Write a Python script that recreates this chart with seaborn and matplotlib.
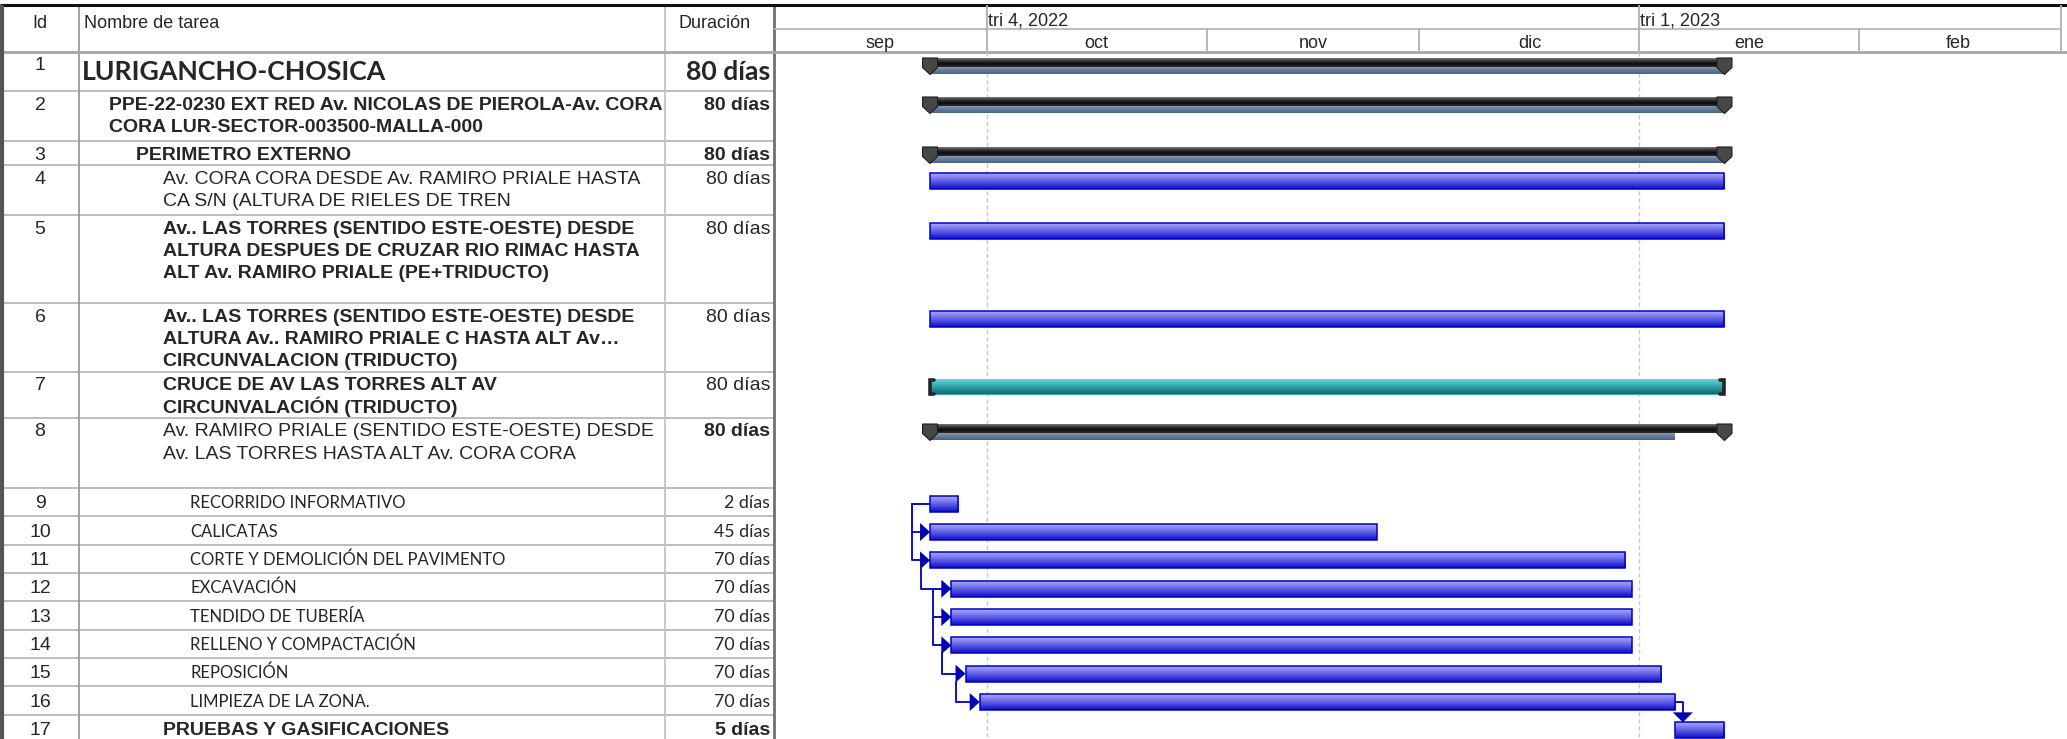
import numpy as np
import pandas as pd
import matplotlib
matplotlib.use("Agg")
import matplotlib.pyplot as plt
import matplotlib.dates as mdates
import seaborn as sns

# ---------------- data ----------------
task_ids = list(range(1, 18))
task_names = [
    "LURIGANCHO-CHOSICA",
    "PPE-22-0230 EXT RED Av. NICOLAS DE PIEROLA-Av. CORA\nCORA LUR-SECTOR-003500-MALLA-000",
    "PERIMETRO EXTERNO",
    "Av. CORA CORA DESDE Av. RAMIRO PRIALE HASTA\nCA S/N (ALTURA DE RIELES DE TREN",
    "Av.. LAS TORRES (SENTIDO ESTE-OESTE) DESDE\nALTURA DESPUES DE CRUZAR RIO RIMAC HASTA\nALT Av. RAMIRO PRIALE (PE+TRIDUCTO)",
    "Av.. LAS TORRES (SENTIDO ESTE-OESTE) DESDE\nALTURA Av.. RAMIRO PRIALE C HASTA ALT Av…\nCIRCUNVALACION (TRIDUCTO)",
    "CRUCE DE AV LAS TORRES ALT AV\nCIRCUNVALACIÓN (TRIDUCTO)",
    "Av. RAMIRO PRIALE (SENTIDO ESTE-OESTE) DESDE\nAv. LAS TORRES HASTA ALT Av. CORA CORA",
    "RECORRIDO INFORMATIVO",
    "CALICATAS",
    "CORTE Y DEMOLICIÓN DEL PAVIMENTO",
    "EXCAVACIÓN",
    "TENDIDO DE TUBERÍA",
    "RELLENO Y COMPACTACIÓN",
    "REPOSICIÓN",
    "LIMPIEZA DE LA ZONA.",
    "PRUEBAS Y GASIFICACIONES",
]
durations = ["80 días"] * 8 + ["2 días", "45 días"] + ["70 días"] * 6 + ["5 días"]
outline_level = [0, 1, 2, 3, 3, 3, 3, 3, 4, 4, 4, 4, 4, 4, 4, 4, 3]
task_kind = ["summary", "summary", "summary", "task", "task", "task", "external", "summary"] + ["task"] * 9
name_style = ["title", "bold", "bold", "normal", "bold", "bold", "bold", "normal"] + ["small"] * 8 + ["bold"]
dur_style = ["title", "bold", "bold", "normal", "normal", "normal", "normal", "bold"] + ["small"] * 8 + ["bold"]

task_start = ["2022-09-23"] * 11 + ["2022-09-26"] * 3 + ["2022-09-28", "2022-09-30", "2023-01-06"]
task_finish = ["2023-01-13"] * 8 + ["2022-09-27", "2022-11-25", "2022-12-30",
                                    "2022-12-31", "2022-12-31", "2022-12-31",
                                    "2023-01-04", "2023-01-06", "2023-01-13"]
# baseline (lower band of summary bars)
baseline_finish = ["2023-01-13", "2023-01-13", "2023-01-13", None, None, None, None, "2023-01-06"] + [None] * 9

link_pred = [9, 9, 11, 12, 13, 14, 15, 16]
link_succ = [10, 11, 12, 13, 14, 15, 16, 17]
link_type = ["SS"] * 7 + ["FS"]

months = ["sep", "oct", "nov", "dic", "ene", "feb"]
month_starts = ["2022-09-01", "2022-10-01", "2022-11-01", "2022-12-01", "2023-01-01", "2023-02-01", "2023-03-01"]
quarter_labels = ["tri 4, 2022", "tri 1, 2023"]
quarter_starts = ["2022-10-01", "2023-01-01"]

# ---------------- layout (pixels) ----------------
W, H = 2067, 739
row_h = np.array([39, 50, 24, 50, 88, 69, 46, 70] + [28.33] * 9)
row_top = np.concatenate([[0], np.cumsum(row_h)[:-1]])
HDR = 52
COL_ID, COL_NAME, COL_DUR = 79, 665, 774
t_lo, t_hi = "2022-09-01", "2023-03-02 07:00"

sns.set_theme(style="white")
plt.rcParams["font.family"] = ["Liberation Sans", "DejaVu Sans"]
ARIAL = ["Liberation Sans", "DejaVu Sans"]
CALI = ["Lato", "DejaVu Sans"]

fig = plt.figure(figsize=(W / 100, H / 100), dpi=100)
fig.patch.set_facecolor("white")

def num(s):
    return mdates.date2num(pd.Timestamp(s))

# background / table axes in pixel coords
bg = fig.add_axes([0, 0, 1, 1])
bg.set_xlim(0, W)
bg.set_ylim(H, 0)
bg.axis("off")

body_h = row_h.sum()
ax = fig.add_axes([COL_DUR / W, (H - HDR - body_h) / H, (W - COL_DUR) / W, body_h / H])
ax.set_axis_off()
nax = fig.add_axes([COL_ID / W, (H - HDR - body_h) / H, (COL_NAME - COL_ID) / W, body_h / H])
nax.set_xlim(COL_ID, COL_NAME)
nax.set_ylim(body_h, 0)
nax.axis("off")

x_lo, x_hi = num(t_lo), num(t_hi)
dpp = (x_hi - x_lo) / (W - COL_DUR)  # days per pixel

# ---------------- table grid ----------------
grid = "#bdbdbd"
bg.hlines(HDR + row_top[1:], 0, COL_DUR, colors=grid, lw=1.4)
bg.hlines(HDR + body_h, 0, COL_DUR, colors=grid, lw=1.4)
bg.vlines(COL_ID, 5, H, colors="#9a9a9a", lw=1.3)
bg.vlines(COL_NAME, 5, H, colors="#c4c4c4", lw=1.3)
bg.vlines(COL_DUR, 5, H, colors="#707070", lw=2)
bg.hlines(51.5, 0, W, colors="#a6a6a6", lw=2)
bg.hlines(29, COL_DUR, W - 6, colors="#b8b8b8", lw=1.3)
bg.hlines(5, 0, W, colors="#111111", lw=2.2)
bg.vlines(2, 5, H, colors="#555555", lw=3)
bg.vlines(W - 6, 5, 51, colors="#b0b0b0", lw=1.3)

bg.text(40, 27.5, "Id", ha="center", va="baseline", fontsize=13, family=ARIAL)
bg.text(84, 27.5, "Nombre de tarea", ha="left", va="baseline", fontsize=13, family=ARIAL)
bg.text(715, 27.5, "Duración", ha="center", va="baseline", fontsize=13, family=ARIAL)

# ---------------- table text ----------------
LINE = 22.4
for i in range(len(task_ids)):
    small = i >= 8
    base = 20.5 if small else 18.5
    bg.text(40, HDR + row_top[i] + base, str(task_ids[i]), ha="center", va="baseline",
            fontsize=14, family=ARIAL)

    st = name_style[i]
    if st == "title":
        kw = dict(fontsize=19.2, family=CALI, fontweight="bold")
        nb = 28.5
    elif st == "small":
        kw = dict(fontsize=12.0, family=CALI)
        nb = 20.5
    else:
        kw = dict(fontsize=14, family=ARIAL, fontweight="bold" if st == "bold" else "normal")
        nb = base
    x_name = 82 + 27 * outline_level[i]
    for j, line in enumerate(task_names[i].split("\n")):
        nax.text(x_name, row_top[i] + nb + j * LINE, line, ha="left", va="baseline",
                 clip_on=True, **kw)

    ds = dur_style[i]
    if ds == "title":
        dkw = dict(fontsize=19.2, family=CALI, fontweight="bold")
        db = 28.5
    elif ds == "small":
        dkw = dict(fontsize=12.8, family=CALI)
        db = 20.5
    else:
        dkw = dict(fontsize=14, family=ARIAL, fontweight="bold" if ds == "bold" else "normal")
        db = base
    bg.text(770, HDR + row_top[i] + db, durations[i], ha="right", va="baseline", **dkw)

# ---------------- timescale header ----------------
ms = [num(m) for m in month_starts]
ax.vlines(ms[1:-1], -23, 0, colors="#b0b0b0", lw=1.3, clip_on=False)
for k, name in enumerate(months):
    ax.text((ms[k] + ms[k + 1]) / 2, -4.5, name, ha="center", va="baseline",
            fontsize=13, family=ARIAL, clip_on=False)
qs = [num(q) for q in quarter_starts]
ax.vlines(qs, -47, -23, colors="#b0b0b0", lw=1.3, clip_on=False)
for q, lab in zip(qs, quarter_labels):
    ax.text(q + 1 * dpp, -26, lab, ha="left", va="baseline", fontsize=13,
            family=ARIAL, clip_on=False)
ax.vlines(qs, 0, body_h, colors="#c8c8c8", lw=1, linestyles=(0, (3, 2)), zorder=0)

# ---------------- bars ----------------
grad = np.linspace(0, 1, 64).reshape(-1, 1)

def shade(patches, colors, z):
    cmap = sns.blend_palette(colors, as_cmap=True)
    for p in patches:
        x, y, w, h = p.get_x(), p.get_y(), p.get_width(), p.get_height()
        im = ax.imshow(grad, extent=[x, x + w, y + h, y], cmap=cmap, aspect="auto",
                       interpolation="bilinear", zorder=z)
        im.set_clip_path(p)

starts = np.array([num(s) for s in task_start])
finishes = np.array([num(s) for s in task_finish])
BAR_OFF, BAR_H = 7.7, 16

# normal tasks
idx = [i for i, k in enumerate(task_kind) if k == "task"]
yc = row_top[idx] + BAR_OFF + BAR_H / 2
bars = ax.barh(yc, finishes[idx] - starts[idx], left=starts[idx], height=BAR_H,
               color="#5a5ae6", lw=0, zorder=3)
shade(bars, ["#a9a9f8", "#7878ee", "#4444dd", "#0c0cc2"], 3.5)
ax.barh(yc, finishes[idx] - starts[idx], left=starts[idx], height=BAR_H,
        fill=False, edgecolor="#0000cc", lw=1.1, zorder=4)

# external (teal) task
idx = [i for i, k in enumerate(task_kind) if k == "external"]
yc = row_top[idx] + 6.5 + BAR_H / 2
bars = ax.barh(yc, finishes[idx] - starts[idx], left=starts[idx], height=BAR_H,
               color="#3aa8b0", lw=0, zorder=3)
shade(bars, ["#74dde4", "#45b8c0", "#25949a", "#146a70"], 3.5)
for i in idx:
    t, b = row_top[i] + 6.5, row_top[i] + 6.5 + BAR_H
    s, f = starts[i], finishes[i]
    ax.plot([s + 4 * dpp, s, s, s + 4 * dpp], [t + 1, t + 1, b - 1, b - 1],
            color="#262626", lw=2.6, solid_joinstyle="miter", zorder=5)
    ax.plot([f - 4 * dpp, f, f, f - 4 * dpp], [t + 1, t + 1, b - 1, b - 1],
            color="#262626", lw=2.6, solid_joinstyle="miter", zorder=5)

# summary tasks
idx = [i for i, k in enumerate(task_kind) if k == "summary"]
bl = np.array([num(baseline_finish[i]) for i in idx])
top = row_top[idx] + 6
bars = ax.barh(top + 8.5 + 3.75, bl - starts[idx], left=starts[idx], height=7.5,
               color="#5d7392", lw=0, zorder=3)
shade(bars, ["#8ea3bf", "#667d9c", "#4a6283"], 3.2)
bars = ax.barh(top + 4.5, finishes[idx] - starts[idx], left=starts[idx], height=9,
               color="#222222", lw=0, zorder=3.6)
shade(bars, ["#7a7a7a", "#303030", "#0c0c0c", "#2e2e2e"], 3.7)
for i, t in zip(idx, top):
    for xc in (starts[i], finishes[i]):
        px = [xc - 7.5 * dpp, xc + 7.5 * dpp, xc + 7.5 * dpp, xc, xc - 7.5 * dpp]
        py = [t, t, t + 9.5, t + 16.5, t + 9.5]
        ax.fill(px, py, color="#474747", ec="#1e1e1e", lw=0.8, zorder=4.5)

# ---------------- links ----------------
LC = "#1010c8"
for p, s, lt in zip(link_pred, link_succ, link_type):
    p, s = p - 1, s - 1
    mp = row_top[p] + BAR_OFF + BAR_H / 2
    msc = row_top[s] + BAR_OFF + BAR_H / 2
    if lt == "SS":
        xs = starts[s]
        if starts[s] == starts[p]:
            vx = starts[p] - 18 * dpp
            xs_ = [starts[p], vx, vx, xs - 9 * dpp]
            ys_ = [mp, mp, msc, msc]
        else:
            vx = starts[p] - 9.5 * dpp
            xs_ = [vx, vx, xs - 9 * dpp]
            ys_ = [row_top[p] + BAR_OFF + BAR_H, msc, msc]
        ax.plot(xs_, ys_, color=LC, lw=1.4, zorder=2.5)
        ax.fill([xs - 10 * dpp, xs - 10 * dpp, xs], [msc - 9, msc + 9, msc],
                color="#0000b4", lw=0, zorder=4.8)
    else:
        xa = finishes[p] + 8 * dpp
        ts = row_top[s] + BAR_OFF
        ax.plot([finishes[p], xa, xa], [mp, mp, ts - 9], color=LC, lw=1.4, zorder=2.5)
        ax.fill([xa - 10 * dpp, xa + 10 * dpp, xa], [ts - 10, ts - 10, ts],
                color="#0000b4", lw=0, zorder=4.8)

ax.set_xlim(x_lo, x_hi)
ax.set_ylim(body_h, 0)

fig.savefig("out.png", dpi=100, facecolor="white")
